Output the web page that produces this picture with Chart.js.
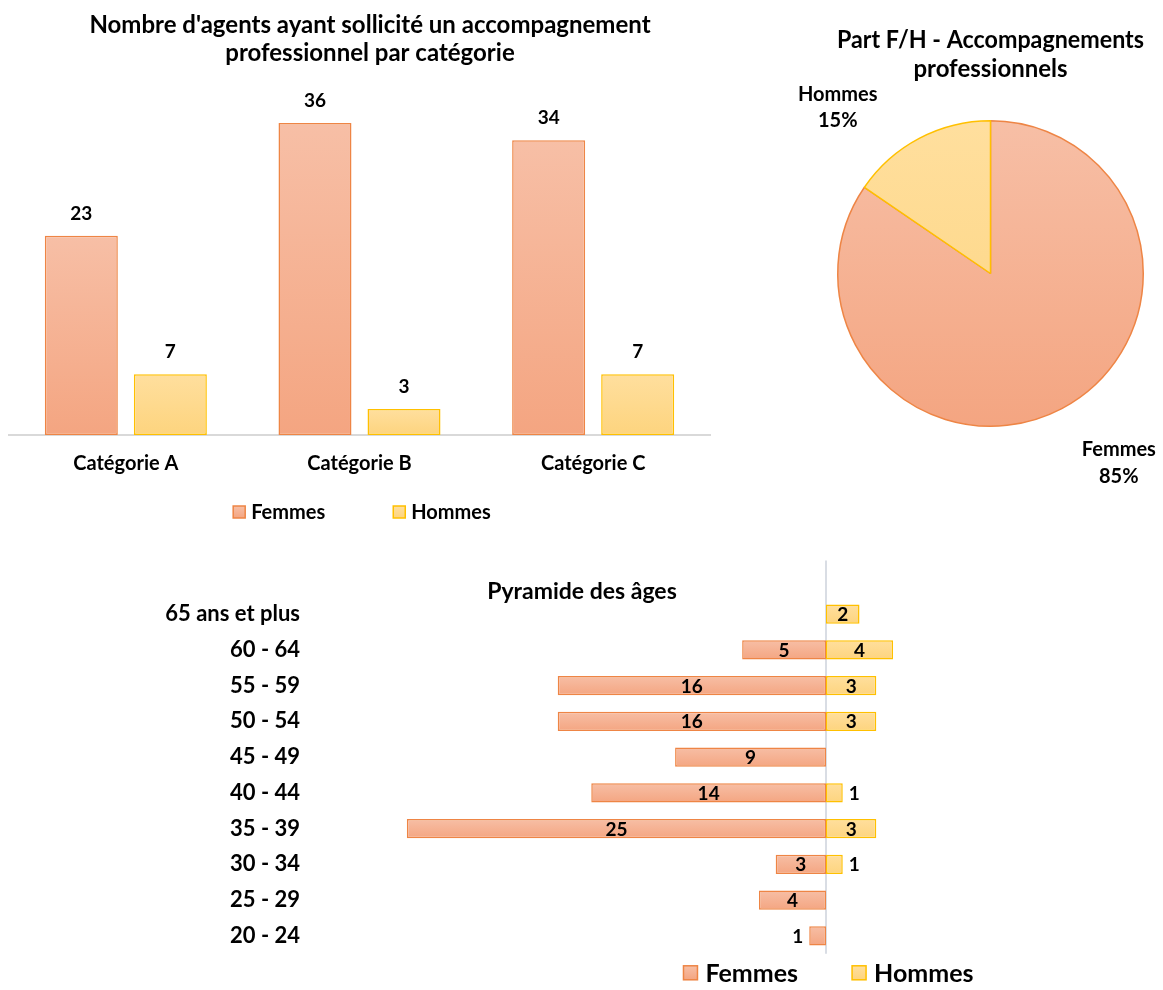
<!DOCTYPE html>
<html>
<head>
<meta charset="utf-8">
<script src="https://cdn.jsdelivr.net/npm/chart.js@4.4.1/dist/chart.umd.min.js"></script>
<style>
html,body{margin:0;padding:0;background:#fff;width:1163px;height:990px;overflow:hidden;}
.box{position:absolute;}
</style>
</head>
<body>
<div class="box" style="left:0;top:0;width:740px;height:540px"><canvas id="c1"></canvas></div>
<div class="box" style="left:780px;top:0;width:383px;height:500px"><canvas id="c2"></canvas></div>
<div class="box" style="left:0;top:560px;width:1163px;height:430px"><canvas id="c3"></canvas></div>
<script>
// ---------- DATA ----------
const categories = ['Catégorie A', 'Catégorie B', 'Catégorie C'];
const femmesParCategorie = [23, 36, 34];
const hommesParCategorie = [7, 3, 7];

const pieLabels = ['Femmes', 'Hommes'];
const pieValues = [93, 17];

const ageGroups = ['65 ans et plus', '60 - 64', '55 - 59', '50 - 54', '45 - 49',
                   '40 - 44', '35 - 39', '30 - 34', '25 - 29', '20 - 24'];
const femmesParAge = [null, 5, 16, 16, 9, 14, 25, 3, 4, 1];
const hommesParAge = [2, 4, 3, 3, null, 1, 3, 1, null, null];

const seriesNames = ['Femmes', 'Hommes'];

// ---------- STYLE ----------
const FONT = 'Lato';
const FEM = {top: '#F7BFA6', bot: '#F4A581', border: '#EE8545', mid: '#F5B193'};
const HOM = {top: '#FFDF9E', bot: '#FDD47E', border: '#FFC000', mid: '#FED98C'};

Chart.defaults.font.family = FONT;
Chart.defaults.color = '#000';
Chart.defaults.animation = false;

function vGrad(ctx, y0, y1, c0, c1) {
  const g = ctx.createLinearGradient(0, y0, 0, y1);
  g.addColorStop(0, c0); g.addColorStop(1, c1);
  return g;
}

// custom legend drawn under the plot
const customLegend = {
  id: 'customLegend',
  afterDraw(chart, args, o) {
    const ctx = chart.ctx;
    ctx.save();
    ctx.font = `bold ${o.size}px ${FONT}`;
    const items = chart.data.datasets.map(d => ({text: d.label, c: d.label === 'Femmes' ? FEM : HOM}));
    const widths = items.map(it => o.box + o.textGap + ctx.measureText(it.text).width);
    const total = widths.reduce((a, b) => a + b, 0) + o.itemGap * (items.length - 1);
    const ca = chart.chartArea;
    const cx = o.anchor === 'zero' ? chart.scales.x.getPixelForValue(0) : (ca.left + ca.right) / 2;
    let x = cx + o.dx - total / 2;
    const y = ca.bottom + o.dy;
    items.forEach((it, i) => {
      ctx.fillStyle = vGrad(ctx, y - o.box / 2, y + o.box / 2, it.c.top, it.c.bot);
      ctx.fillRect(x, y - o.box / 2, o.box, o.box);
      ctx.strokeStyle = it.c.border; ctx.lineWidth = 1.5;
      ctx.strokeRect(x, y - o.box / 2, o.box, o.box);
      ctx.fillStyle = '#000'; ctx.textAlign = 'left'; ctx.textBaseline = 'middle';
      ctx.fillText(it.text, x + o.box + o.textGap, y + 1);
      x += widths[i] + o.itemGap;
    });
    ctx.restore();
  }
};

// ---------- CHART 1 : bars by category ----------
const barValueLabels = {
  id: 'barValueLabels',
  afterDatasetsDraw(chart) {
    const ctx = chart.ctx;
    ctx.save();
    ctx.font = `bold 19px ${FONT}`;
    ctx.fillStyle = '#000'; ctx.textAlign = 'center'; ctx.textBaseline = 'alphabetic';
    chart.data.datasets.forEach((ds, di) => {
      chart.getDatasetMeta(di).data.forEach((el, i) => {
        const v = ds.data[i];
        if (v == null) return;
        ctx.fillText(String(v), el.x, el.y - 16);
      });
    });
    ctx.restore();
  }
};

function barFill(c) {
  return (ctx) => {
    const ch = ctx.chart;
    if (!ch.chartArea || ctx.type !== 'data') return c.mid;
    const ys = ch.scales.y;
    return vGrad(ch.ctx, ys.getPixelForValue(ctx.raw), ys.getPixelForValue(0), c.top, c.bot);
  };
}

new Chart(document.getElementById('c1'), {
  type: 'bar',
  data: {
    labels: categories,
    datasets: [
      {label: seriesNames[0], data: femmesParCategorie, backgroundColor: barFill(FEM),
       borderColor: FEM.border, borderWidth: 1.5, borderSkipped: false,
       categoryPercentage: 0.762, barPercentage: 0.82},
      {label: seriesNames[1], data: hommesParCategorie, backgroundColor: barFill(HOM),
       borderColor: HOM.border, borderWidth: 1.5, borderSkipped: false,
       categoryPercentage: 0.762, barPercentage: 0.82}
    ]
  },
  options: {
    responsive: true, maintainAspectRatio: false,
    layout: {padding: {left: 9, right: 9, top: 0, bottom: 0}},
    scales: {
      x: {
        grid: {display: false, drawTicks: false},
        border: {display: true, color: '#D9D9D9', width: 2},
        ticks: {font: {size: 20, weight: 'bold'}, padding: 17, color: '#000'},
        afterFit(s) { s.height = 105; }
      },
      y: {
        position: 'right', min: 0, max: 40,
        grid: {display: false, drawTicks: false},
        border: {display: false},
        ticks: {display: false},
        afterFit(s) { s.width = 21; }
      }
    },
    plugins: {
      legend: {display: false},
      tooltip: {enabled: false},
      title: {
        display: true,
        text: ["Nombre d'agents ayant sollicité un accompagnement", 'professionnel par catégorie'],
        color: '#000',
        font: {size: 24, weight: 'bold', lineHeight: '28px'},
        padding: {top: 11, bottom: 21.3}
      },
      customLegend: {size: 20, box: 12, textGap: 6, itemGap: 68, anchor: 'area', dx: 2.5, dy: 77}
    }
  },
  plugins: [barValueLabels, customLegend]
});

// ---------- CHART 2 : pie ----------
const pieOutLabels = {
  id: 'pieOutLabels',
  afterDatasetsDraw(chart, args, o) {
    const ctx = chart.ctx;
    const arcs = chart.getDatasetMeta(0).data;
    const total = chart.data.datasets[0].data.reduce((a, b) => a + b, 0);
    ctx.save();
    ctx.font = `bold 20px ${FONT}`;
    ctx.fillStyle = '#000'; ctx.textAlign = 'center'; ctx.textBaseline = 'middle';
    arcs.forEach((a, i) => {
      const r = a.outerRadius;
      const p = o.pos[i];
      const x = a.x + p[0] * r, y = a.y + p[1] * r;
      const pct = Math.round(chart.data.datasets[0].data[i] / total * 100) + '%';
      ctx.fillText(chart.data.labels[i], x, y);
      ctx.fillText(pct, x, y + 26.5);
    });
    ctx.restore();
  }
};

const pieStyles = [FEM, HOM];
function pieFill(ctx) {
  const c = pieStyles[ctx.dataIndex] || FEM;
  const ch = ctx.chart;
  if (!ch.chartArea) return c.mid;
  return vGrad(ch.ctx, ch.chartArea.top, ch.chartArea.bottom, c.top, c.bot);
}

new Chart(document.getElementById('c2'), {
  type: 'pie',
  data: {
    labels: pieLabels,
    datasets: [{
      data: pieValues,
      backgroundColor: pieFill,
      borderColor: [FEM.border, HOM.border],
      borderWidth: 1.5
    }]
  },
  options: {
    responsive: true, maintainAspectRatio: false,
    layout: {padding: {left: 57, right: 19, top: 0, bottom: 73}},
    plugins: {
      legend: {display: false},
      tooltip: {enabled: false},
      title: {
        display: true,
        text: ['Part F/H - Accompagnements', 'professionnels'],
        color: '#000',
        font: {size: 24, weight: 'bold', lineHeight: '29px'},
        padding: {top: 25.5, bottom: 36.5}
      },
      pieOutLabels: {pos: [[0.84, 1.154], [-1.0, -1.173]]}
    }
  },
  plugins: [pieOutLabels]
});

// ---------- CHART 3 : age pyramid ----------
const zeroLine = {
  id: 'zeroLine',
  beforeDatasetsDraw(chart) {
    const ctx = chart.ctx, ca = chart.chartArea;
    const x = chart.scales.x.getPixelForValue(0);
    const step = ca.height / chart.data.labels.length;
    ctx.save();
    ctx.strokeStyle = '#D9DDE4'; ctx.lineWidth = 2;
    ctx.beginPath(); ctx.moveTo(x, ca.top - step); ctx.lineTo(x, ca.bottom); ctx.stroke();
    ctx.restore();
  }
};

const pyrValueLabels = {
  id: 'pyrValueLabels',
  afterDatasetsDraw(chart) {
    const ctx = chart.ctx;
    const src = [femmesParAge, hommesParAge];
    ctx.save();
    ctx.font = `bold 19px ${FONT}`;
    ctx.fillStyle = '#000'; ctx.textBaseline = 'alphabetic';
    chart.data.datasets.forEach((ds, di) => {
      chart.getDatasetMeta(di).data.forEach((el, i) => {
        const v = src[di][i];
        if (v == null) return;
        const w = Math.abs(el.x - el.base);
        const y = el.y + 7;
        if (w < 20) {
          if (di === 0) { ctx.textAlign = 'right'; ctx.fillText(String(v), Math.min(el.x, el.base) - 6, y); }
          else { ctx.textAlign = 'left'; ctx.fillText(String(v), Math.max(el.x, el.base) + 6, y); }
        } else {
          ctx.textAlign = 'center';
          ctx.fillText(String(v), (el.x + el.base) / 2, y);
        }
      });
    });
    ctx.restore();
  }
};

function hbarFill(c) {
  return (ctx) => {
    const ch = ctx.chart;
    if (!ch.chartArea || ctx.type !== 'data') return c.mid;
    const yc = ch.scales.y.getPixelForValue(ctx.dataIndex);
    return vGrad(ch.ctx, yc - 10, yc + 10, c.top, c.bot);
  };
}

new Chart(document.getElementById('c3'), {
  type: 'bar',
  data: {
    labels: ageGroups,
    datasets: [
      {label: seriesNames[0], data: femmesParAge.map(v => v == null ? null : -v),
       backgroundColor: hbarFill(FEM), borderColor: FEM.border, borderWidth: 1.5, borderSkipped: false,
       stack: 'p', categoryPercentage: 1, barPercentage: 0.535},
      {label: seriesNames[1], data: hommesParAge,
       backgroundColor: hbarFill(HOM), borderColor: HOM.border, borderWidth: 1.5, borderSkipped: false,
       stack: 'p', categoryPercentage: 1, barPercentage: 0.535}
    ]
  },
  options: {
    indexAxis: 'y',
    responsive: true, maintainAspectRatio: false,
    layout: {padding: {left: 1, right: 0, top: 0, bottom: 28.2}},
    scales: {
      x: {display: false, stacked: true, min: -30, max: 20.1},
      y: {
        stacked: true,
        grid: {display: false, drawTicks: false},
        border: {display: false},
        ticks: {font: {size: 22, weight: 'bold'}, padding: 23, color: '#000'},
        afterFit(s) { s.width = 322; }
      }
    },
    plugins: {
      legend: {display: false},
      tooltip: {enabled: false},
      title: {
        display: true,
        text: 'Pyramide des âges',
        color: '#000',
        font: {size: 23, weight: 'bold', lineHeight: 1.2},
        padding: {top: 18.2, bottom: -9.6}
      },
      customLegend: {size: 25, box: 14, textGap: 8, itemGap: 54, anchor: 'zero', dx: 2.5, dy: 19}
    }
  },
  plugins: [zeroLine, pyrValueLabels, customLegend]
});
</script>
</body>
</html>
